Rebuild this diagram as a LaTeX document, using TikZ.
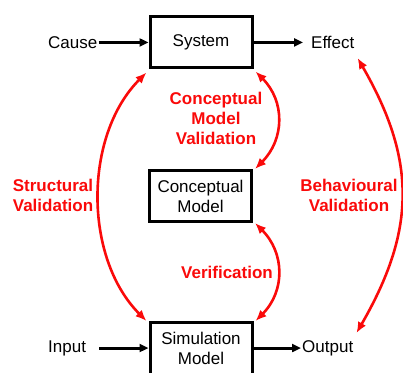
\documentclass[tikz,border=0pt]{standalone}
\usepackage{fontspec}
\setmainfont{Liberation Sans}
\usetikzlibrary{arrows.meta}
\definecolor{valred}{RGB}{250,10,10}
\newcommand{\diagfont}{\fontsize{17}{20}\selectfont}
\tikzset{
    block/.style={draw, line width=3pt, minimum width=102pt, minimum height=51pt, align=center, inner sep=2pt, font=\diagfont},
    plaintext/.style={inner sep=1pt, font=\diagfont},
    flow/.style={line width=3pt, -{Triangle[length=9pt, width=8pt]}},
    check/.style={draw=valred, line width=2.6pt, {Latex[length=11pt, width=9pt]}-{Latex[length=11pt, width=9pt]}},
    checktext/.style={text=valred, align=center, font=\diagfont\bfseries},
    common settings/.style={x=1pt, y=1pt}
}
\begin{document}
\begin{tikzpicture}[common settings]
    \useasboundingbox (0,0) rectangle (403,372);

    \def\top{329.5}  % System row
    \def\bot{24}     % Simulation row

    % Boxes
    \node[block] (sys) at (201,\top) {System};
    \node[block] (concept) at (200.5,176) {Conceptual\\Model};
    \node[block, minimum height=60pt, text depth=9pt] (sim) at (201,19.5) {Simulation\\Model};

    % Inputs and outputs
    \node[plaintext, anchor=west] (cause) at (47,\top) {Cause};
    \node[plaintext, anchor=west] (effect) at (310,\top) {Effect};
    \node[plaintext, anchor=west] (input) at (47,\bot) {Input};
    \node[plaintext, anchor=west] (output) at (301,\bot) {Output};

    \draw[flow] (cause) -- (sys);
    \draw[flow] (sys) -- ([xshift=-7pt]effect.west);
    \draw[flow] ([xshift=12pt]input.east) -- (sim.west |- input.east);
    \draw[flow] (sim.east |- output.west) -- (output);

    % Validation loops
    \draw[check] ([xshift=-2pt, yshift=-3pt]sys.south west) to[out=225, in=135, looseness=0.92] ([xshift=-2pt]sim.north west);
    \draw[check] ([xshift=2pt, yshift=-2pt]sys.south east) to[out=-45, in=45, looseness=1.1] ([xshift=2pt]concept.north east);
    \draw[check] ([xshift=2pt]concept.south east) to[out=-45, in=45, looseness=1.1] ([xshift=2pt]sim.north east);
    \draw[check] ([xshift=2pt, yshift=-8pt]effect.south east) to[out=-60, in=60, looseness=1.1] ([xshift=2pt, yshift=6pt]output.north east);

    % Labels
    \node[checktext] (cmv) at (216,254) {Conceptual\\Model\\Validation};
    \node[checktext] (sv) at (53,177) {Structural\\Validation};
    \node[checktext] (bv) at (349,177) {Behavioural\\Validation};
    \node[checktext] (ver) at (227,100) {Verification};

\end{tikzpicture}
\end{document}
